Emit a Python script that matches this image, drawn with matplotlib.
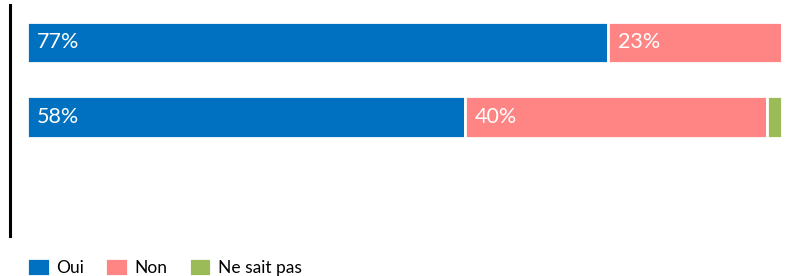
import numpy as np
import matplotlib.pyplot as plt

plt.rcParams['font.family'] = ['Lato', 'DejaVu Sans']

# donnees
rows = ['Q1', 'Q2']
oui = [77, 58]
non = [23, 40]
nsp = [0, 2]
series = ['Oui', 'Non', 'Ne sait pas']
colors = ['#0070C0', '#FF8585', '#9BBB59']

fig = plt.figure(figsize=(7.87, 2.76), dpi=100)
ax = fig.add_axes([10/787, 1-236/276, 772/787, 231/276])

y = np.arange(len(rows))
left = np.zeros(len(rows))
handles = []
for vals, name, col in zip([oui, non, nsp], series, colors):
    vals = np.array(vals, dtype=float)
    b = ax.barh(y, vals, left=left, height=0.56, color=col,
                edgecolor='white', linewidth=2.0, label=name)
    handles.append(b)
    for yi, l, v in zip(y, left, vals):
        if v >= 5:
            ax.text(l + 1.3, yi, f'{int(v)}%', color='white', fontsize=15.5,
                    ha='left', va='center')
    left = left + vals

ax.set_xlim(-2.25, 100)
ax.set_ylim(2.597, -0.503)
for s in ['top', 'right', 'bottom']:
    ax.spines[s].set_visible(False)
ax.spines['left'].set_linewidth(2.2)
ax.set_xticks([])
ax.set_yticks([])

fig.legend(handles=handles, labels=series, loc='center left',
           bbox_to_anchor=(27/787, 1-267/276), ncol=3, frameon=False,
           fontsize=12.5, handlelength=1.3, handleheight=1.3,
           handletextpad=0.4, columnspacing=1.2, borderpad=0,
           borderaxespad=0)

fig.savefig('out.png', dpi=100)
